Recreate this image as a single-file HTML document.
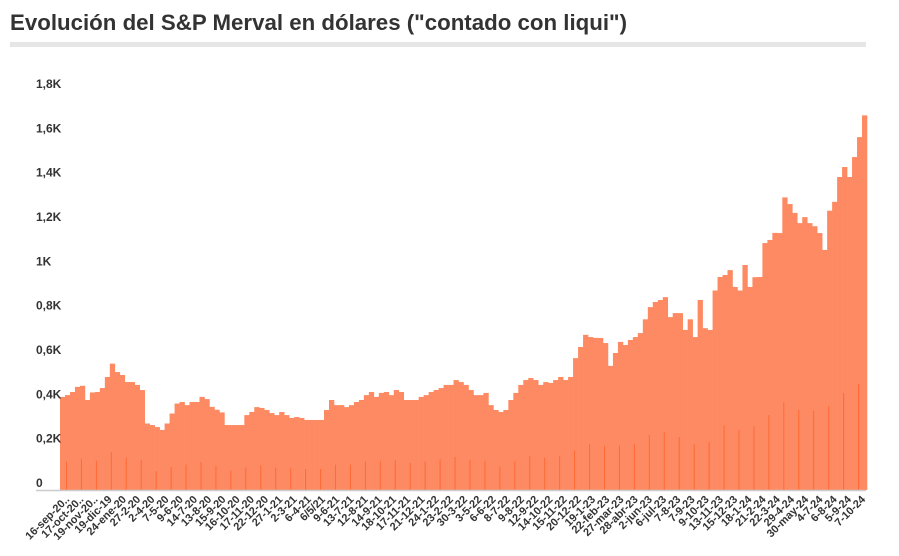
<!DOCTYPE html>
<html><head><meta charset="utf-8"><style>
body{margin:0;background:#fff;width:899px;height:556px;overflow:hidden}
svg{display:block;font-family:"Liberation Sans",sans-serif}
</style></head><body>
<svg id="chart" width="899" height="556">
<text x="10" y="30" font-size="22" font-weight="bold" fill="#333" textLength="617" lengthAdjust="spacingAndGlyphs">Evolución del S&amp;P Merval en dólares ("contado con liqui")</text>
<rect x="10" y="42" width="856" height="5" fill="#e6e6e6"/>
<g id="bars"></g>
<g id="yaxis"></g>
<g id="xaxis"></g>
<line x1="36" y1="490.5" x2="866" y2="490.5" stroke="#ccc" stroke-width="1.5"/>
</svg>
<script>
const values = [420,428,442,465,470,406,440,442,460,510,570,532,519,487,487,474,451,300,293,284,271,300,345,390,397,383,397,397,420,410,375,362,350,293,293,293,293,338,352,374,370,361,347,338,352,338,325,329,325,316,316,316,316,361,406,383,383,374,383,397,406,428,442,420,438,442,428,451,442,406,406,406,420,428,442,451,460,474,474,496,487,474,451,428,428,438,383,361,352,361,406,438,474,496,505,496,474,487,483,496,510,496,510,595,645,700,690,686,686,663,560,618,668,654,677,690,708,770,825,848,857,870,780,798,798,722,770,690,857,730,722,900,961,970,992,916,900,1015,916,960,961,1114,1128,1160,1159,1320,1290,1250,1204,1231,1204,1190,1159,1083,1260,1300,1412,1457,1412,1502,1592,1690];
const yTicks = [0,200,400,600,800,1000,1200,1400,1600,1800];
const yTickLabels = ["0","0,2K","0,4K","0,6K","0,8K","1K","1,2K","1,4K","1,6K","1,8K"];
const xLabels = ["16-sep-20..","17-oct-20..","19-nov-20..","19-dic-19","24-ene-20","27-2-20","2-4-20","7-5-20","9-6-20","14-7-20","13-8-20","15-9-20","16-10-20","17-11-20","22-12-20","27-1-21","2-3-21","6-4-21","6/5/21","9-6-21","13-7-21","12-8-21","14-9-21","18-10-21","17-11-21","21-12-21","24-1-22","23-2-22","30-3-22","3-5-22","6-6-22","8-7-22","9-8-22","12-9-22","14-10-22","15-11-22","20-12-22","19-1-23","22-feb-23","27-mar-23","28-abr-23","2-jun-23","6-jul-23","7-8-23","7-9-23","9-10-23","13-11-23","15-12-23","18-1-24","21-2-24","22-3-24","29-4-24","30-may-24","4-7-24","6-8-24","5-9-24","7-10-24"];
const NS="http://www.w3.org/2000/svg";
const x0=60,x1=867,yBase=490,yMax=1800,yTop=91;
const yScale=v=>yBase-(v/yMax)*(yBase-yTop);
const bw=(x1-x0)/values.length;
const xBar=i=>x0+i*bw;
const barsG=document.getElementById('bars');
values.forEach((v,i)=>{
  const r=document.createElementNS(NS,'rect');
  
  
  r.setAttribute('x',xBar(i));r.setAttribute('width',bw+0.3);
  r.setAttribute('y',yScale(v));r.setAttribute('height',yBase-yScale(v));
  r.setAttribute('fill','#fd8a62');
  barsG.appendChild(r);
  if(i%3===1){
    const d=document.createElementNS(NS,'rect');
    
    
    d.setAttribute('x',xBar(i)+1);d.setAttribute('width',1);
    d.setAttribute('y',yBase-(yBase-yScale(v))*0.3);d.setAttribute('height',(yBase-yScale(v))*0.3);
    d.setAttribute('fill','#ff6a35');
    barsG.appendChild(d);
  }
});
const yG=document.getElementById('yaxis');
yTicks.forEach((t,i)=>{
  const tx=document.createElementNS(NS,'text');
  
  
  tx.setAttribute('x',36);tx.setAttribute('y',yScale(t)-3);
  tx.setAttribute('font-size','12');tx.setAttribute('font-weight','bold');tx.setAttribute('fill','#333');
  tx.textContent=yTickLabels[i];
  yG.appendChild(tx);
});
const xG=document.getElementById('xaxis');
const xs=70,xe=866,step=(xe-xs)/(xLabels.length-1);
xLabels.forEach((l,i)=>{
  const tx=document.createElementNS(NS,'text');
  
  
  const px=xs+i*step;
  tx.setAttribute('transform','translate('+px+',500) rotate(-45)');
  tx.setAttribute('text-anchor','end');
  tx.setAttribute('font-size','11');tx.setAttribute('font-weight','bold');tx.setAttribute('fill','#333');
  tx.textContent=l;
  xG.appendChild(tx);
});
</script>
</body></html>
